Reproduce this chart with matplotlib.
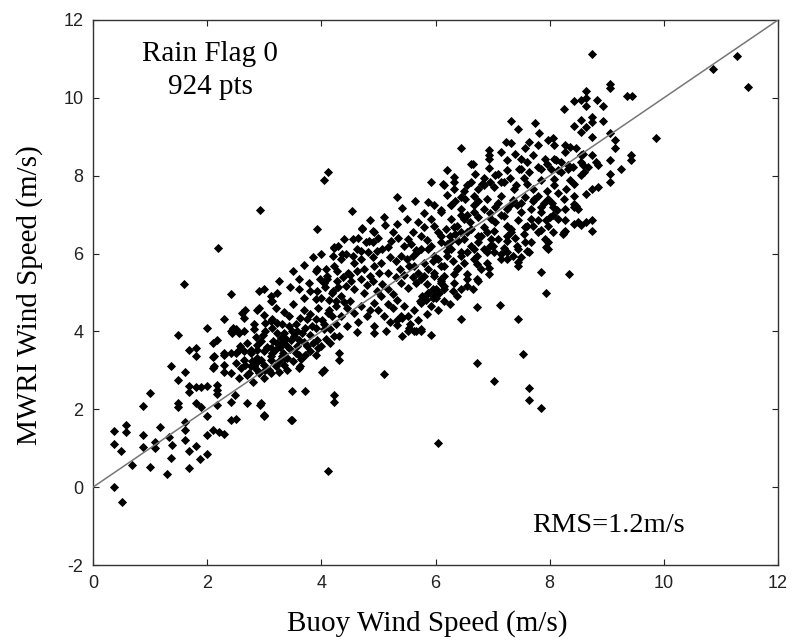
import matplotlib
matplotlib.use("Agg")
import matplotlib.pyplot as plt
from matplotlib import font_manager
import numpy as np

# ---- data (buoy wind speed, MWRI wind speed) ----
pts_lowleft = [
    (0.37, 0.0), (0.5, -0.38), (0.37, 1.44), (0.37, 1.10), (0.49, 0.93), (0.58, 1.59), (0.58, 1.41),
    (0.69, 0.56), (0.88, 2.09), (0.99, 2.41), (0.88, 1.34), (0.88, 1.02), (0.99, 0.52), (1.08, 1.16),
    (1.08, 1.0), (1.18, 1.55), (1.30, 0.33), (1.33, 1.29), (1.37, 3.10), (1.38, 1.08), (1.37, 0.76),
    (1.49, 3.92), (1.49, 2.74), (1.49, 2.15), (1.49, 2.07), (1.61, 2.95), (1.61, 1.68), (1.61, 1.48),
    (1.61, 1.22), (1.69, 0.93), (1.69, 0.49), (1.69, 3.53), (1.80, 3.58), (1.80, 3.36), (1.69, 2.61),
    (1.69, 2.45), (1.80, 2.56), (1.90, 2.56), (2.0, 2.61), (1.80, 2.15), (1.90, 2.07), (1.80, 1.05),
    (1.88, 0.72), (2.0, 0.85), (2.0, 1.34), (2.0, 1.83), (2.10, 1.48), (2.20, 1.42), (2.29, 1.36),
    (2.17, 2.11), (2.17, 2.62), (2.17, 2.49), (2.17, 2.39), (2.10, 3.34), (2.10, 3.06), (2.10, 3.70),
    (2.17, 3.79), (2.29, 3.40), (2.29, 3.14), (2.29, 2.95), (2.41, 2.93), (2.41, 3.45), (2.51, 3.45),
    (2.41, 2.19), (2.48, 2.36), (2.41, 1.72), (2.50, 1.76), (2.44, 3.96), (1.60, 5.21), (4.11, 0.42),
]
pts_left_band = [
    (1.99, 4.09), (2.29, 4.31), (2.61, 4.48), (2.64, 4.35), (2.67, 4.55), (2.82, 4.05), (2.82, 4.18),
    (2.91, 4.6), (3.0, 4.42), (3.11, 4.78), (3.11, 4.26), (3.13, 4.09), (3.22, 4.22), (3.31, 4.18),
    (2.41, 4.0), (2.50, 4.05), (2.55, 3.96), (2.64, 3.49), (2.76, 3.45), (2.88, 3.53), (2.99, 3.49),
    (2.79, 3.23), (2.67, 3.14), (2.70, 2.88), (2.82, 3.10), (2.88, 3.32), (2.94, 3.27), (3.0, 3.14),
    (3.11, 3.27), (3.13, 3.45), (3.16, 3.75), (2.94, 3.75), (3.02, 4.0), (3.22, 3.96), (3.31, 3.70),
    (3.34, 3.96), (3.26, 3.23), (3.11, 2.92), (3.0, 2.80), (2.94, 2.15), (3.0, 1.85), (2.70, 2.15),
    (3.37, 3.32), (3.46, 1.72),
    (2.19, 6.14), (3.92, 6.62), (4.22, 6.14), (2.41, 4.95), (2.91, 5.04), (2.99, 5.08), (3.11, 4.92),
    (3.23, 5.0), (3.14, 4.78), (2.46, 4.09), (2.64, 4.0), (3.02, 4.22), (3.14, 4.31), (3.43, 4.39),
    (3.43, 4.13), (3.49, 4.0), (3.29, 3.83), (3.46, 3.79), (3.61, 3.79), (3.58, 4.0), (3.75, 4.31),
    (3.84, 4.13), (3.69, 4.56), (3.90, 4.31), (3.72, 4.09), (3.61, 5.34), (3.60, 5.08), (3.78, 5.25),
    (3.90, 5.56), (3.98, 5.34), (3.92, 5.04), (4.07, 5.13), (3.90, 4.83), (4.10, 5.43), (4.19, 5.0),
    (4.25, 4.78), (4.13, 4.56), (4.19, 4.39), (4.04, 4.05), (4.25, 4.18), (3.92, 3.79), (3.95, 3.57),
    (4.22, 3.88), (2.12, 3.36), (2.29, 3.45), (2.55, 3.53), (2.76, 3.53), (2.88, 3.66), (3.11, 3.57),
    (3.23, 3.70), (3.32, 3.45), (3.40, 3.32), (3.58, 3.62), (3.72, 3.40), (3.63, 3.10), (4.04, 3.02),
    (2.64, 3.27), (2.76, 3.10), (2.85, 3.19), (2.12, 3.10), (2.73, 2.93), (2.91, 2.93), (3.02, 3.02),
    (2.88, 4.56), (3.93, 5.60), (4.10, 5.34), (4.28, 5.56), (4.37, 5.99), (4.69, 6.07), (4.78, 6.29),
    (4.92, 6.55), (5.07, 6.12),
]
pts_mid_sparse = [
    (2.92, 7.13), (4.53, 7.09), (5.42, 7.18), (5.64, 7.36), (5.10, 2.91), (3.61, 3.06), (3.49, 2.46),
    (3.71, 2.46), (4.22, 2.37), (4.22, 2.19), (2.92, 2.11), (2.99, 1.82), (3.49, 1.72), (6.04, 1.14),
    (4.02, 2.97), (4.31, 3.45), (4.31, 3.27), (3.61, 3.40), (5.92, 3.92), (4.62, 3.98), (5.42, 3.87),
    (5.66, 4.0), (5.74, 4.0), (4.91, 6.29), (4.71, 6.63), (5.12, 6.73), (5.33, 6.75), (4.23, 6.16),
    (3.90, 4.09), (4.05, 4.18), (4.16, 4.05), (4.31, 3.87), (4.45, 4.13), (4.93, 4.13), (4.93, 3.96),
    (5.10, 4.39), (5.33, 4.30), (5.62, 4.56), (5.77, 4.90), (6.0, 5.08), (5.85, 5.21), (6.1, 5.34),
    (3.75, 3.62), (3.40, 3.62), (3.11, 3.36), (3.31, 3.36), (2.88, 3.01), (3.08, 3.01),
]
pts_center = [
    (4.11, 8.10), (4.04, 7.88), (6.21, 8.14), (5.92, 7.84), (6.15, 7.75), (6.33, 7.84), (5.33, 7.45),
    (5.86, 7.32), (5.98, 7.24), (6.09, 7.11), (6.27, 7.24), (4.72, 6.65), (4.91, 6.57), (5.25, 6.55),
    (5.22, 6.33), (5.69, 6.80), (5.80, 6.68), (5.92, 6.89), (5.74, 6.46), (6.04, 6.55), (6.18, 6.63),
    (6.33, 6.68), (4.40, 6.37), (4.55, 6.37), (4.83, 6.33), (4.43, 5.99), (4.63, 6.12), (4.81, 6.03),
    (4.98, 6.07), (5.16, 6.16), (5.45, 6.20), (5.57, 6.24), (5.39, 5.95), (5.60, 5.95), (5.74, 6.12),
    (5.92, 6.20), (6.09, 6.29), (6.21, 6.24), (6.39, 6.33), (5.98, 5.95), (4.08, 5.60), (4.22, 5.68),
    (4.57, 5.77), (4.46, 5.51), (4.75, 5.60), (4.92, 5.68), (5.01, 5.51), (4.69, 5.34), (4.86, 5.43),
    (5.16, 5.51), (5.37, 5.60), (5.54, 5.68), (5.69, 5.51), (5.86, 5.60), (6.09, 5.68), (4.05, 5.25),
    (4.28, 5.29), (4.43, 5.17), (4.57, 5.08), (4.75, 5.00), (5.07, 5.21), (5.16, 5.08), (5.39, 5.25),
    (5.51, 5.12), (5.66, 5.25), (5.86, 5.00), (6.01, 4.87), (6.09, 5.30), (5.72, 4.79), (4.13, 4.82),
    (4.34, 4.91), (4.51, 4.79), (4.69, 4.65), (4.92, 4.74), (5.16, 4.70), (5.33, 4.82), (5.45, 4.65),
    (5.92, 4.65), (4.11, 4.48), (4.34, 4.40), (4.57, 4.48), (4.80, 4.40), (5.39, 4.40),
]
pts_upper_band = [
    (8.25, 9.71), (7.32, 9.41), (7.75, 9.35), (7.44, 9.20), (7.82, 9.09), (7.97, 8.91), (7.64, 8.87),
    (6.44, 8.70), (6.94, 8.66), (7.23, 8.87), (7.32, 8.83), (7.56, 8.70), (7.79, 8.78), (8.08, 8.78),
    (8.26, 8.61), (8.35, 8.74), (6.94, 8.44), (7.26, 8.40), (7.50, 8.44), (7.70, 8.53), (7.91, 8.44),
    (8.11, 8.40), (6.65, 8.29), (6.94, 8.20), (6.33, 7.97), (6.70, 8.05), (6.85, 7.93), (7.05, 8.01),
    (7.26, 8.14), (7.46, 8.18), (7.64, 8.10), (7.79, 8.23), (8.02, 8.18), (8.20, 8.10), (8.40, 8.23),
    (6.14, 7.80), (6.33, 7.67), (6.56, 7.75), (6.82, 7.80), (7.02, 7.71), (7.20, 7.84), (7.41, 7.75),
    (7.61, 7.80), (7.85, 7.88), (8.08, 7.75), (8.29, 7.67), (6.44, 7.45), (6.68, 7.49), (6.91, 7.41),
    (7.14, 7.49), (7.35, 7.37), (7.56, 7.45), (7.79, 7.49), (7.97, 7.41), (6.44, 7.15), (6.68, 7.24),
    (6.85, 7.15), (7.05, 7.19), (7.26, 7.15), (7.50, 7.06), (7.67, 7.15), (7.85, 7.19), (8.05, 7.19),
    (8.26, 7.15), (8.49, 7.15), (6.27, 6.89), (6.50, 6.89), (6.74, 6.93), (6.97, 6.89), (7.20, 6.97),
    (7.44, 6.85), (7.67, 6.89), (7.94, 6.85), (6.38, 6.72), (6.62, 6.63), (6.85, 6.67), (7.03, 6.59),
    (7.32, 6.63), (7.56, 6.67), (7.79, 6.55), (7.97, 6.72), (8.26, 6.85), (8.49, 6.80), (8.26, 6.59),
    (6.27, 6.33), (6.50, 6.38), (6.74, 6.29), (6.97, 6.38), (7.26, 6.33), (7.56, 6.29), (7.97, 6.29),
    (7.94, 6.16), (6.21, 6.07), (6.44, 6.03), (6.68, 6.12), (6.91, 6.03), (7.14, 5.99), (7.44, 6.12),
    (7.64, 6.05),
]
pts_upper_right = [
    (8.74, 11.13), (9.05, 10.36), (9.05, 10.25), (9.36, 10.05), (9.45, 10.05), (9.86, 8.96),
    (8.64, 10.17), (8.43, 9.91), (8.55, 9.95), (8.64, 9.99), (8.64, 9.78), (8.83, 9.95), (8.93, 9.78),
    (8.55, 9.43), (8.75, 9.51), (8.75, 9.39), (8.93, 9.40), (8.43, 9.28), (8.55, 9.13), (8.64, 9.26),
    (8.75, 9.00), (9.05, 9.09), (9.14, 8.91), (9.14, 8.70), (8.05, 8.96), (8.26, 8.79), (8.46, 8.70),
    (8.58, 8.57), (8.75, 8.53), (8.81, 8.36), (9.05, 8.40), (9.43, 8.53), (9.43, 8.40), (9.25, 8.18),
    (9.05, 8.05), (8.32, 8.27), (8.58, 8.27), (8.08, 8.44), (10.86, 10.74), (11.28, 11.07),
    (11.47, 10.29), (9.05, 7.84), (8.84, 7.71), (8.75, 7.67), (8.64, 7.54), (8.43, 7.28), (8.43, 7.20),
    (8.24, 6.50), (8.43, 6.76), (8.55, 6.73), (8.64, 6.81), (8.75, 6.85), (8.75, 6.59), (8.34, 5.47),
    (8.84, 8.27), (8.55, 8.36), (8.67, 8.23), (8.61, 8.10), (8.43, 7.80), (8.55, 8.01), (8.14, 8.14),
]
pts_lower_right = [
    (7.44, 5.78), (7.44, 5.68), (7.25, 5.86), (7.84, 5.53), (7.94, 5.0), (7.13, 4.67), (7.44, 4.33),
    (6.72, 4.63), (6.44, 4.33), (6.65, 5.08), (7.53, 3.43), (6.72, 3.19), (7.03, 2.73), (7.64, 2.54),
    (7.64, 2.24), (7.84, 2.04), (5.63, 4.0), (5.54, 4.08), (5.33, 4.17), (5.13, 4.0), (5.42, 4.35),
    (5.25, 4.60), (6.73, 5.34), (6.94, 5.64), (6.94, 5.47), (6.73, 5.94), (5.86, 4.99), (6.06, 4.99),
    (5.95, 4.87), (5.83, 4.82), (5.95, 5.08), (6.15, 5.17), (6.33, 5.47), (6.33, 5.25), (6.39, 5.64),
    (6.15, 5.43), (5.98, 5.43), (6.73, 5.73), (7.61, 6.07), (7.97, 6.12),
    (8.25, 6.56), (7.91, 6.38), (8.13, 7.12), (8.46, 7.21), (8.43, 7.47), (8.25, 7.40), (8.04, 7.31),
    (7.43, 7.26), (6.62, 8.30), (6.94, 8.53),
    (6.56, 6.55), (6.74, 6.46), (6.91, 6.55), (7.09, 6.38), (6.62, 6.20), (6.85, 6.12), (7.03, 6.03),
    (6.44, 5.94), (6.68, 5.86), (6.91, 5.77), (7.15, 5.86), (6.38, 5.60), (6.56, 5.47), (6.80, 5.60),
    (6.56, 5.17), (6.74, 5.30), (6.15, 5.08), (6.38, 4.91), (6.15, 4.78), (5.98, 4.91), (5.74, 4.74),
    (5.51, 4.40), (5.74, 4.05), (5.51, 4.0), (6.09, 5.25), (5.98, 5.51), (6.15, 5.68), (5.80, 5.43),
    (5.62, 5.68), (5.68, 6.03), (5.86, 6.12), (6.27, 6.12), (5.98, 6.72), (5.51, 6.38), (6.44, 6.98),
    (6.68, 7.06), (7.15, 6.98), (6.51, 7.41), (6.27, 7.24), (6.09, 7.06), (6.85, 7.75), (7.15, 7.84),
    (6.62, 7.84), (7.37, 7.67), (7.73, 7.41), (7.85, 7.06), (7.61, 6.72), (7.32, 6.55), (7.43, 6.20),
    (7.67, 6.29), (7.26, 6.72), (7.50, 8.18), (7.85, 8.18), (8.08, 7.92), (8.32, 8.18), (8.55, 8.53),
]
# estimated positions inside the saturated (overlapping) core of the cloud
pts_core_left = [
    (2.58, 3.62), (2.70, 3.70), (2.85, 3.85), (2.97, 3.92), (3.05, 3.60), (3.18, 3.52), (3.27, 3.60),
    (3.38, 3.80), (3.52, 3.88), (3.66, 3.95), (3.80, 3.92), (3.86, 3.70), (3.70, 3.74), (3.55, 3.45),
    (3.45, 3.55), (3.20, 3.10), (3.35, 3.15), (3.50, 3.25), (3.65, 3.30), (3.80, 3.50), (3.90, 3.40),
    (4.00, 3.62), (4.08, 3.80), (4.15, 3.70), (2.60, 3.05), (2.50, 3.20), (2.55, 2.80), (2.80, 2.70),
    (3.25, 2.95), (3.40, 3.00), (3.55, 4.20), (3.62, 4.35), (3.80, 4.45), (3.95, 4.60), (4.02, 4.30),
    (3.35, 4.50), (3.20, 4.60), (3.50, 4.70), (3.70, 4.85), (3.80, 5.05), (3.45, 5.15), (3.25, 5.30),
    (3.50, 5.55), (3.70, 5.70), (3.85, 5.90), (4.00, 6.00),
]
pts_core_mid = [
    (4.20, 5.05), (4.30, 5.15), (4.38, 5.40), (4.52, 5.30), (4.62, 5.55), (4.80, 5.20), (4.90, 5.30),
    (4.98, 5.05), (5.05, 4.90), (5.25, 4.95), (5.30, 5.40), (5.45, 5.45), (5.60, 5.40), (5.75, 5.35),
    (5.80, 5.75), (5.95, 5.80), (6.05, 5.85), (6.20, 5.95), (6.30, 5.80), (6.25, 6.45), (6.10, 6.45),
    (5.85, 6.35), (5.65, 6.10), (5.50, 5.85), (5.30, 5.80), (5.20, 5.90), (5.05, 5.75), (4.90, 5.90),
    (4.70, 5.85), (4.55, 5.95), (4.35, 5.85), (4.20, 5.95), (4.30, 6.20), (4.65, 6.40), (5.00, 6.40),
    (5.35, 6.40), (5.60, 6.55), (5.10, 6.95), (5.50, 6.90), (5.80, 7.05), (4.85, 6.85), (4.45, 4.60),
    (4.65, 4.25), (4.85, 4.55), (5.00, 4.55), (5.20, 4.25), (5.55, 4.20), (5.70, 4.30), (5.85, 4.45),
    (6.05, 4.55), (6.25, 4.70), (6.30, 5.05), (6.45, 5.10), (6.55, 5.35), (6.50, 5.75), (4.25, 4.65),
    (4.40, 4.75), (4.00, 4.85), (4.50, 5.45),
]
pts_core_right = [
    (6.35, 6.50), (6.55, 6.05), (6.80, 6.45), (7.00, 6.20), (7.20, 6.15), (7.40, 6.40), (7.55, 6.50),
    (7.70, 6.70), (7.85, 6.60), (8.05, 6.55), (8.15, 6.90), (8.05, 7.00), (7.90, 7.30), (7.70, 7.35),
    (7.50, 7.30), (7.30, 7.25), (7.10, 7.30), (6.95, 7.05), (6.75, 7.35), (6.55, 7.00), (6.35, 7.35),
    (6.20, 7.50), (6.50, 7.60), (6.75, 7.65), (6.95, 7.85), (7.10, 8.05), (7.30, 7.95), (7.55, 7.95),
    (7.70, 7.65), (7.95, 7.60), (8.15, 7.55), (8.35, 7.90), (8.20, 8.35), (7.95, 8.30), (7.60, 8.35),
    (7.40, 8.55), (7.15, 8.60), (7.05, 6.80), (7.25, 6.45), (6.95, 6.20), (6.60, 6.80), (6.45, 6.55),
    (7.80, 6.85), (8.00, 6.95), (7.35, 5.95), (7.50, 5.90), (7.25, 6.05),
]

x_ticks = [0, 2, 4, 6, 8, 10, 12]
y_ticks = [-2, 0, 2, 4, 6, 8, 10, 12]
one_to_one = [0, 12]
title_lines = ["Rain Flag 0", "924 pts"]
rms_text = "RMS=1.2m/s"

all_pts = np.array(pts_lowleft + pts_left_band + pts_mid_sparse + pts_center
                   + pts_upper_band + pts_upper_right + pts_lower_right
                   + pts_core_left + pts_core_mid + pts_core_right)
buoy = all_pts[:, 0]
mwri = all_pts[:, 1]

# ---- fonts ----
plt.rcParams["axes.unicode_minus"] = False
avail = {f.name for f in font_manager.fontManager.ttflist}
serif = ["Liberation Serif", "DejaVu Serif"]
tick_font = ["Liberation Sans Narrow", "Liberation Sans", "DejaVu Sans"]
tick_font = [f for f in tick_font if f in avail] or ["DejaVu Sans"]

fig = plt.figure(figsize=(7.92, 6.42), dpi=100)
ax = fig.add_axes([93 / 792, 1 - 565 / 642, (778 - 93) / 792, (565 - 20) / 642])

ax.plot(buoy, mwri, linestyle="none", marker="D", markersize=3.8,
        markerfacecolor="black", markeredgecolor="black", markeredgewidth=0.6, zorder=2)
ax.plot(one_to_one, one_to_one, color="#777777", linewidth=1.1, zorder=3)

ax.set_xlim(0, 12)
ax.set_ylim(-2, 12)
ax.set_xticks(x_ticks)
ax.set_yticks(y_ticks)
ax.tick_params(direction="in", top=True, right=True, length=4, width=0.8,
               labelsize=13, pad=7, colors="#222222")
for lab in ax.get_xticklabels() + ax.get_yticklabels():
    lab.set_family(tick_font)
for sp in ax.spines.values():
    sp.set_linewidth(1.0)
    sp.set_color("#333333")

ax.text(2.05, 10.95, title_lines[0], ha="center", va="baseline", fontsize=21, family=serif)
ax.text(2.05, 10.10, title_lines[1], ha="center", va="baseline", fontsize=21, family=serif)
ax.text(9.03, -1.15, rms_text, ha="center", va="baseline", fontsize=20.5, family=serif)

fig.text(427 / 792, 1 - 631 / 642, "Buoy Wind Speed (m/s)", ha="center", va="baseline",
         fontsize=21, family=serif)
fig.text(30 / 792, 1 - 295 / 642, "MWRI Wind Speed (m/s)", ha="center", va="center",
         rotation=90, fontsize=21, family=serif)

fig.savefig("out.png", dpi=100)
